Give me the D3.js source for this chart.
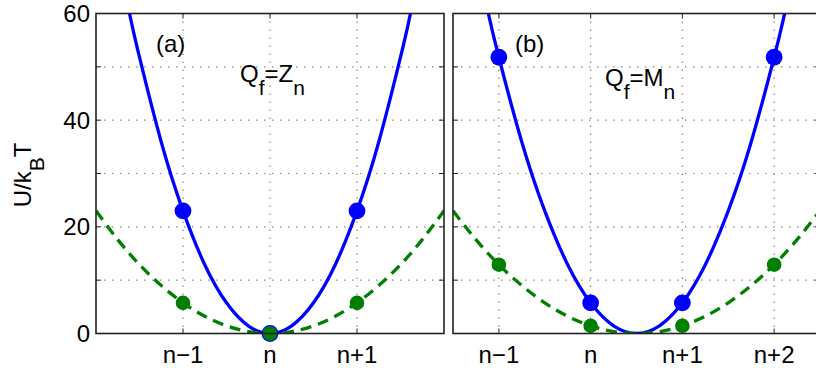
<!DOCTYPE html>
<html>
<head>
<meta charset="utf-8">
<script src="https://cdn.jsdelivr.net/npm/d3@7"></script>
<style>
  body { margin: 0; background: #fff; }
  svg { display: block; font-family: "Liberation Sans", Arial, sans-serif; }
</style>
</head>
<body>
<svg width="816" height="374"></svg>
<script>
// panel (a): Q_f = Z_n
var blueX_a = [-1.7, -1.6, -1.5, -1.25, -1, -0.75, -0.5, -0.25, 0, 0.25, 0.5, 0.75, 1, 1.25, 1.5, 1.6, 1.7];
var blueU_a = [66.5, 58.9, 51.8, 35.9, 23, 12.9, 5.75, 1.44, 0, 1.44, 5.75, 12.9, 23, 35.9, 51.8, 58.9, 66.5];
var greenX_a = [-2, -1.75, -1.5, -1.25, -1, -0.75, -0.5, -0.25, 0, 0.25, 0.5, 0.75, 1, 1.25, 1.5, 1.75, 2];
var greenU_a = [23, 17.6, 12.9, 9.0, 5.75, 3.23, 1.44, 0.36, 0, 0.36, 1.44, 3.23, 5.75, 9.0, 12.9, 17.6, 23];
var dotX_a = [-1, 0, 1];
var blueDots_a = [23, 0, 23];
var greenDots_a = [5.75, 0, 5.75];
var xTicks_a = [-1, 0, 1];
var xLabels_a = ["n\u22121", "n", "n+1"];

// panel (b): Q_f = M_n
var blueX_b = [-1.2, -1.1, -1, -0.75, -0.5, -0.25, 0, 0.25, 0.5, 0.75, 1, 1.25, 1.5, 1.75, 2, 2.1, 2.2];
var blueU_b = [66.5, 58.9, 51.8, 35.9, 23, 12.9, 5.75, 1.44, 0, 1.44, 5.75, 12.9, 23, 35.9, 51.8, 58.9, 66.5];
var greenX_b = [-1.5, -1.25, -1, -0.75, -0.5, -0.25, 0, 0.25, 0.5, 0.75, 1, 1.25, 1.5, 1.75, 2, 2.25, 2.5];
var greenU_b = [23, 17.6, 12.9, 9.0, 5.75, 3.23, 1.44, 0.36, 0, 0.36, 1.44, 3.23, 5.75, 9.0, 12.9, 17.6, 23];
var dotX_b = [-1, 0, 1, 2];
var blueDots_b = [51.8, 5.75, 5.75, 51.8];
var greenDots_b = [12.9, 1.44, 1.44, 12.9];
var xTicks_b = [-1, 0, 1, 2];
var xLabels_b = ["n\u22121", "n", "n+1", "n+2"];

var yTicks = [0, 10, 20, 30, 40, 50, 60];
var yLabels = [0, 20, 40, 60];

var blue = "#0000ff", green = "#007f00";
var yTop = 13.5, yBottom = 333.5;
var fs = 24, subFs = 21, subDy = 13;

var svg = d3.select("svg");

var y = d3.scaleLinear().domain([0, 60]).range([yBottom, yTop]);

function zip(xs, ys) {
    return xs.map(function (d, i) { return [d, ys[i]]; });
}

function panel(id, x0, x1, xdom, xTicks, xLabels, bx, bu, gx, gu, dx, bd, gd, tag, sub, main, tagPos, labPos, showY) {
    var x = d3.scaleLinear().domain(xdom).range([x0, x1]);
    var g = svg.append("g");

    g.append("clipPath").attr("id", "clip" + id)
        .append("rect")
        .attr("x", x0).attr("y", yTop)
        .attr("width", x1 - x0).attr("height", yBottom - yTop);

    // dotted grid
    g.selectAll(".gx").data(xTicks).enter().append("line")
        .attr("x1", function (d) { return x(d); })
        .attr("x2", function (d) { return x(d); })
        .attr("y1", yTop).attr("y2", yBottom)
        .attr("stroke", "#8a8a8a").attr("stroke-width", 1.2)
        .attr("stroke-dasharray", "1.5,6.5");
    g.selectAll(".gy").data(yTicks.slice(1, -1)).enter().append("line")
        .attr("y1", function (d) { return y(d); })
        .attr("y2", function (d) { return y(d); })
        .attr("x1", x0).attr("x2", x1)
        .attr("stroke", "#8a8a8a").attr("stroke-width", 1.2)
        .attr("stroke-dasharray", "1.5,6.5");

    // tick marks inside the box
    [x0, x1].forEach(function (xe, k) {
        g.selectAll(".ty" + k).data(yTicks).enter().append("line")
            .attr("x1", xe).attr("x2", xe + (k ? -5 : 5))
            .attr("y1", function (d) { return y(d); })
            .attr("y2", function (d) { return y(d); })
            .attr("stroke", "#222");
    });
    [yTop, yBottom].forEach(function (ye, k) {
        g.selectAll(".tx" + k).data(xTicks).enter().append("line")
            .attr("y1", ye).attr("y2", ye + (k ? -5 : 5))
            .attr("x1", function (d) { return x(d); })
            .attr("x2", function (d) { return x(d); })
            .attr("stroke", "#222");
    });

    var line = d3.line()
        .x(function (d) { return x(d[0]); })
        .y(function (d) { return y(d[1]); })
        .curve(d3.curveNatural);

    g.append("path").datum(zip(bx, bu))
        .attr("clip-path", "url(#clip" + id + ")")
        .attr("d", line)
        .attr("fill", "none").attr("stroke", blue).attr("stroke-width", 3.3);

    g.append("path").datum(zip(gx, gu))
        .attr("clip-path", "url(#clip" + id + ")")
        .attr("d", line)
        .attr("fill", "none").attr("stroke", green).attr("stroke-width", 3.3)
        .attr("stroke-dasharray", "11,7");

    g.selectAll(".bd").data(zip(dx, bd)).enter().append("circle")
        .attr("cx", function (d) { return x(d[0]); })
        .attr("cy", function (d) { return y(d[1]); })
        .attr("r", 8.4).attr("fill", blue);
    g.selectAll(".gd").data(zip(dx, gd)).enter().append("circle")
        .attr("cx", function (d) { return x(d[0]); })
        .attr("cy", function (d) { return y(d[1]); })
        .attr("r", 7.3).attr("fill", green);

    // box
    g.append("rect")
        .attr("x", x0).attr("y", yTop)
        .attr("width", x1 - x0).attr("height", yBottom - yTop)
        .attr("fill", "none").attr("stroke", "#222").attr("stroke-width", 1.6);

    // x tick labels
    g.selectAll(".xl").data(xTicks).enter().append("text")
        .attr("x", function (d) { return x(d); })
        .attr("y", 363)
        .attr("text-anchor", "middle")
        .attr("font-size", fs)
        .text(function (d, i) { return xLabels[i]; });

    if (showY) {
        g.selectAll(".yl").data(yLabels).enter().append("text")
            .attr("x", x0 - 6)
            .attr("y", function (d) { return y(d); })
            .attr("dy", "0.36em")
            .attr("text-anchor", "end")
            .attr("font-size", fs)
            .text(function (d) { return d; });
    }

    g.append("text")
        .attr("x", tagPos[0]).attr("y", tagPos[1])
        .attr("font-size", fs)
        .text(tag);

    var t = g.append("text")
        .attr("x", labPos[0]).attr("y", labPos[1])
        .attr("font-size", fs);
    t.append("tspan").text("Q");
    t.append("tspan").attr("dy", subDy).attr("font-size", subFs).text("f");
    t.append("tspan").attr("dy", -subDy).text("=" + main);
    t.append("tspan").attr("dy", subDy).attr("font-size", subFs).text(sub);
}

panel("a", 96, 444, [-2, 2], xTicks_a, xLabels_a,
    blueX_a, blueU_a, greenX_a, greenU_a, dotX_a, blueDots_a, greenDots_a,
    "(a)", "n", "Z", [156, 52], [240, 82], true);

panel("b", 453, 820, [-1.5, 2.5], xTicks_b, xLabels_b,
    blueX_b, blueU_b, greenX_b, greenU_b, dotX_b, blueDots_b, greenDots_b,
    "(b)", "n", "M", [515, 52], [605, 86], false);

// y axis label
var yl = svg.append("text")
    .attr("transform", "translate(31,175) rotate(-90)")
    .attr("text-anchor", "middle")
    .attr("font-size", fs);
yl.append("tspan").text("U/k");
yl.append("tspan").attr("dy", subDy).attr("font-size", subFs).text("B");
yl.append("tspan").attr("dy", -subDy).text("T");
</script>
</body>
</html>
